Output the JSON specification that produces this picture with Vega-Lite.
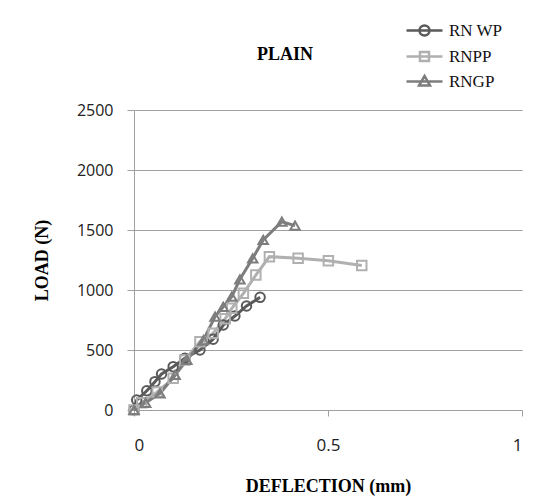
{
  "$schema": "https://vega.github.io/schema/vega-lite/v6.json",
  "autosize": "none",
  "width": 388,
  "height": 300,
  "padding": {"left": 134, "top": 110, "right": 36, "bottom": 91},
  "background": "white",
  "title": {"text": "PLAIN", "font": "Liberation Serif", "fontSize": 18, "fontWeight": "bold", "color": "#000000", "anchor": "middle", "dx": -43, "offset": -45},
  "config": {"view": {"stroke": null}},
  "resolve": {"scale": {"shape": "independent"}, "legend": {"shape": "independent"}},
  "data": {"values": [
    {"series": "RN WP", "x": 0, "y": 0},
    {"series": "RN WP", "x": 0.007, "y": 83},
    {"series": "RN WP", "x": 0.033, "y": 160},
    {"series": "RN WP", "x": 0.054, "y": 236},
    {"series": "RN WP", "x": 0.071, "y": 300},
    {"series": "RN WP", "x": 0.101, "y": 361},
    {"series": "RN WP", "x": 0.131, "y": 431},
    {"series": "RN WP", "x": 0.17, "y": 500},
    {"series": "RN WP", "x": 0.204, "y": 590},
    {"series": "RN WP", "x": 0.23, "y": 708},
    {"series": "RN WP", "x": 0.26, "y": 783},
    {"series": "RN WP", "x": 0.29, "y": 867},
    {"series": "RN WP", "x": 0.325, "y": 939},
    {"series": "RNPP", "x": 0, "y": 0},
    {"series": "RNPP", "x": 0.02, "y": 60},
    {"series": "RNPP", "x": 0.06, "y": 150},
    {"series": "RNPP", "x": 0.101, "y": 264},
    {"series": "RNPP", "x": 0.131, "y": 417},
    {"series": "RNPP", "x": 0.17, "y": 569},
    {"series": "RNPP", "x": 0.204, "y": 640},
    {"series": "RNPP", "x": 0.235, "y": 760},
    {"series": "RNPP", "x": 0.252, "y": 847},
    {"series": "RNPP", "x": 0.282, "y": 972},
    {"series": "RNPP", "x": 0.314, "y": 1125},
    {"series": "RNPP", "x": 0.349, "y": 1278},
    {"series": "RNPP", "x": 0.423, "y": 1264},
    {"series": "RNPP", "x": 0.501, "y": 1244},
    {"series": "RNPP", "x": 0.587, "y": 1205},
    {"series": "RNGP", "x": 0, "y": 0},
    {"series": "RNGP", "x": 0.03, "y": 60},
    {"series": "RNGP", "x": 0.067, "y": 139},
    {"series": "RNGP", "x": 0.106, "y": 292},
    {"series": "RNGP", "x": 0.136, "y": 417},
    {"series": "RNGP", "x": 0.179, "y": 583},
    {"series": "RNGP", "x": 0.209, "y": 778},
    {"series": "RNGP", "x": 0.23, "y": 860},
    {"series": "RNGP", "x": 0.252, "y": 944},
    {"series": "RNGP", "x": 0.273, "y": 1089},
    {"series": "RNGP", "x": 0.306, "y": 1264},
    {"series": "RNGP", "x": 0.333, "y": 1417},
    {"series": "RNGP", "x": 0.381, "y": 1569},
    {"series": "RNGP", "x": 0.415, "y": 1536}
  ]},
  "encoding": {
    "x": {"field": "x", "type": "quantitative",
      "scale": {"domain": [0, 1], "nice": false},
      "axis": {"values": [0, 0.5, 1], "grid": false, "title": "DEFLECTION (mm)", "format": "~g",
        "domainColor": "#a0a0a0", "tickColor": "#a0a0a0", "tickSize": 6,
        "labelFont": "Open Sans", "labelFontSize": 17, "labelColor": "#222222", "labelPadding": 21,
        "titleFont": "Liberation Serif", "titleFontSize": 18, "titleFontWeight": "bold", "titleColor": "#000000", "titlePadding": 24}},
    "y": {"field": "y", "type": "quantitative",
      "scale": {"domain": [0, 2500], "nice": false},
      "axis": {"values": [0, 500, 1000, 1500, 2000, 2500], "grid": true, "gridColor": "#a0a0a0", "title": "LOAD (N)", "format": "d",
        "domainColor": "#a0a0a0", "tickColor": "#a0a0a0", "tickSize": 7,
        "labelFont": "Open Sans", "labelFontSize": 16, "labelColor": "#222222", "labelPadding": 14,
        "titleFont": "Liberation Serif", "titleFontSize": 18, "titleFontWeight": "bold", "titleColor": "#000000", "titleX": -83}},
    "color": {"field": "series", "type": "nominal",
      "scale": {"domain": ["RN WP", "RNPP", "RNGP"], "range": ["#5a5a5a", "#b0b0b0", "#7d7d7d"]}}
  },
  "layer": [
    {"mark": {"type": "line", "strokeWidth": 3},
     "encoding": {"color": {"field": "series", "type": "nominal",
       "legend": {"orient": "none", "legendX": 279, "legendY": -91, "title": null,
         "symbolSize": 400, "symbolStrokeWidth": 2.5, "rowPadding": 4, "labelOffset": 13,
         "labelFont": "Liberation Serif", "labelFontSize": 17, "labelColor": "#111111",
         "encode": {"symbols": {"update": {
           "shape": {"signal": "datum.value === 'RN WP' ? 'M-1.8,0H1.8M-0.5,0A0.5,0.5 0 1,1 0.5,0A0.5,0.5 0 1,1 -0.5,0' : datum.value === 'RNPP' ? 'M-1.8,0H1.8M-0.45,-0.45H0.45V0.45H-0.45Z' : 'M-1.8,0H1.8M0,-0.55L0.55,0.4H-0.55Z'"},
           "fill": {"value": "transparent"}}}}}}}},
    {"mark": {"type": "point", "filled": false, "size": 90, "strokeWidth": 2, "opacity": 1},
     "encoding": {"shape": {"field": "series", "type": "nominal",
       "scale": {"domain": ["RN WP", "RNPP", "RNGP"], "range": ["circle", "square", "triangle-up"]}, "legend": null}}}
  ]
}
